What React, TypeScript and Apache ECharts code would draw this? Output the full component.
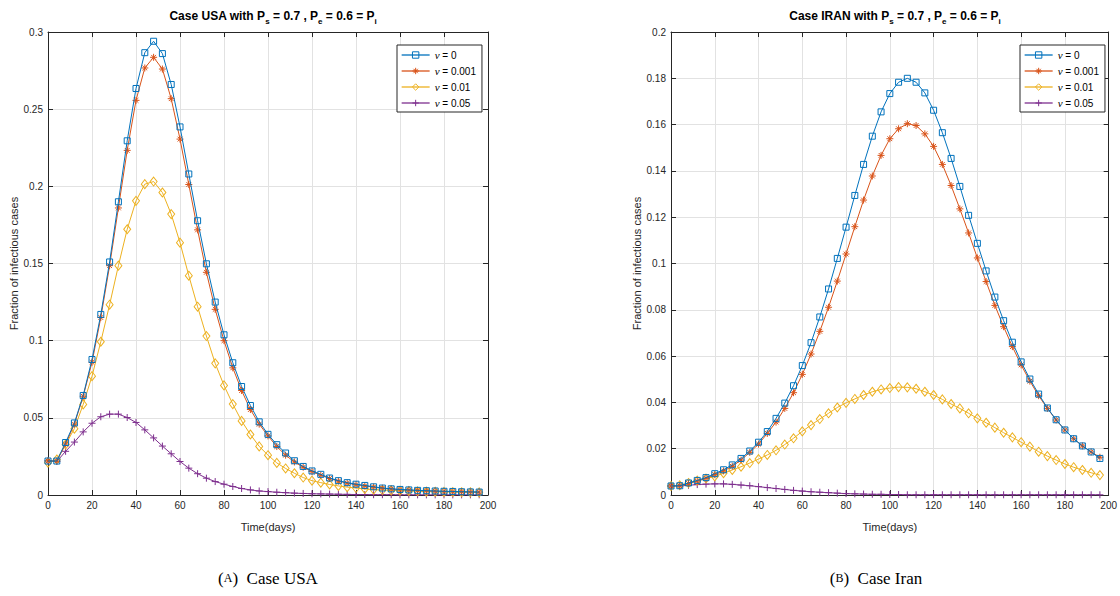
import React, { useEffect, useRef } from 'react';
import * as echarts from 'echarts';

const days = [0, 4, 8, 12, 16, 20, 24, 28, 32, 36, 40, 44, 48, 52, 56, 60, 64, 68, 72, 76, 80, 84, 88, 92, 96, 100, 104, 108, 112, 116, 120, 124, 128, 132, 136, 140, 144, 148, 152, 156, 160, 164, 168, 172, 176, 180, 184, 188, 192, 196];

const usaNu0 = [0.022, 0.022, 0.034, 0.0467, 0.0645, 0.0878, 0.117, 0.151, 0.19, 0.2295,
  0.2634, 0.2866, 0.294, 0.286, 0.266, 0.2385, 0.208, 0.1777, 0.1498, 0.125,
  0.1038, 0.0857, 0.0703, 0.058, 0.0474, 0.0393, 0.0326, 0.0272, 0.0222, 0.0185,
  0.0156, 0.0134, 0.011, 0.0093, 0.008, 0.007, 0.0062, 0.0053, 0.0045, 0.004,
  0.0036, 0.0033, 0.003, 0.0028, 0.0026, 0.0024, 0.0023, 0.0021, 0.002, 0.0019];
const usaNu0001 = [0.022, 0.022, 0.033, 0.0459, 0.064, 0.086, 0.115, 0.1486, 0.186, 0.2233,
  0.2557, 0.2767, 0.2836, 0.276, 0.2568, 0.2306, 0.2012, 0.1718, 0.1443, 0.1203,
  0.1, 0.0824, 0.0677, 0.0554, 0.0459, 0.0383, 0.0314, 0.0258, 0.0214, 0.018,
  0.0152, 0.0128, 0.0107, 0.009, 0.0077, 0.0067, 0.0059, 0.0051, 0.0044, 0.0039,
  0.0035, 0.0032, 0.0029, 0.0027, 0.0025, 0.0023, 0.0022, 0.0021, 0.002, 0.0019];
const usaNu001 = [0.021, 0.023, 0.0327, 0.043, 0.0587, 0.077, 0.0993, 0.1233, 0.1486, 0.1722,
  0.1906, 0.2014, 0.2031, 0.196, 0.182, 0.1635, 0.1421, 0.122, 0.103, 0.0853,
  0.071, 0.0589, 0.048, 0.0392, 0.0315, 0.0258, 0.0208, 0.0172, 0.0141, 0.0113,
  0.0093, 0.008, 0.0068, 0.0059, 0.0051, 0.0045, 0.0039, 0.0035, 0.0032, 0.003,
  0.0028, 0.0026, 0.0024, 0.0022, 0.0021, 0.002, 0.0019, 0.0018, 0.0018, 0.0017];
const usaNu005 = [0.0222, 0.0217, 0.0283, 0.0343, 0.0409, 0.0465, 0.0507, 0.0524, 0.0524, 0.0502,
  0.047, 0.0422, 0.037, 0.0317, 0.0267, 0.0217, 0.0174, 0.0138, 0.0109, 0.0087,
  0.007, 0.0055, 0.0042, 0.0033, 0.0026, 0.0022, 0.0018, 0.0015, 0.0012, 0.001,
  0.0008, 0.0007, 0.0006, 0.0005, 0.0004, 0.0003, 0.0003, 0.0002, 0.0002, 0.0002,
  0.0001, 0.0001, 0.0001, 0.0001, 0.0001, 0.0001, 0.0001, 0.0001, 0.0001, 0.0001];

const iranNu0 = [0.0039, 0.004, 0.0052, 0.0063, 0.0075, 0.0092, 0.0109, 0.013, 0.0158, 0.019,
  0.0228, 0.0274, 0.0331, 0.0397, 0.0472, 0.0559, 0.0658, 0.0769, 0.089, 0.1022,
  0.1157, 0.1294, 0.1428, 0.155, 0.1655, 0.1734, 0.1783, 0.18, 0.1783, 0.1737,
  0.1662, 0.1565, 0.1454, 0.1333, 0.1208, 0.1087, 0.0968, 0.0855, 0.0753, 0.066,
  0.0575, 0.0501, 0.0436, 0.0376, 0.0325, 0.0281, 0.0243, 0.0212, 0.0186, 0.0158];
const iranNu0001 = [0.0039, 0.004, 0.005, 0.006, 0.0072, 0.0088, 0.0104, 0.0124, 0.0151, 0.0184,
  0.022, 0.0266, 0.0315, 0.0374, 0.0442, 0.0521, 0.0609, 0.0707, 0.0811, 0.0924,
  0.1041, 0.1159, 0.1274, 0.1378, 0.1467, 0.1539, 0.1582, 0.1604, 0.1596, 0.156,
  0.1506, 0.1428, 0.1337, 0.1236, 0.1132, 0.1024, 0.0922, 0.0819, 0.0727, 0.0641,
  0.0562, 0.0492, 0.0429, 0.0374, 0.0324, 0.0281, 0.0243, 0.0212, 0.0186, 0.0163];
const iranNu001 = [0.0039, 0.0042, 0.0052, 0.0062, 0.0071, 0.008, 0.0094, 0.0108, 0.0122, 0.0138,
  0.0155, 0.0173, 0.0193, 0.0218, 0.0245, 0.0275, 0.0302, 0.0328, 0.0353, 0.0378,
  0.0398, 0.0415, 0.0432, 0.0446, 0.0456, 0.0462, 0.0466, 0.0465, 0.0459, 0.0446,
  0.0432, 0.0413, 0.0393, 0.0374, 0.0353, 0.0331, 0.0312, 0.0291, 0.0269, 0.0249,
  0.0228, 0.0209, 0.0187, 0.0168, 0.0151, 0.0134, 0.012, 0.0108, 0.0096, 0.0086];
const iranNu005 = [0.0039, 0.0039, 0.0042, 0.0045, 0.0047, 0.0048, 0.0048, 0.0046, 0.0043, 0.004,
  0.0036, 0.0032, 0.0028, 0.0024, 0.002, 0.0017, 0.0014, 0.0012, 0.001, 0.0008,
  0.0006, 0.0005, 0.0004, 0.0003, 0.0003, 0.0002, 0.0002, 0.0001, 0.0001, 0.0001,
  0.0001, 0.0001, 0.0001, 0.0001, 0.0001, 0.0001, 0.0001, 0.0001, 0.0001, 0.0001,
  0.0001, 0.0001, 0.0001, 0.0001, 0.0001, 0.0001, 0.0001, 0.0001, 0.0001, 0.0001];

const seriesNames = ['ν = 0', 'ν = 0.001', 'ν = 0.01', 'ν = 0.05'];
const colors = ['#0072BD', '#D95319', '#EDB120', '#7E2F8E'];
const xTicks = { min: 0, max: 200, interval: 20 };

const SANS = 'Liberation Sans';
const AX = '#262626';
const PLUS = 'path://M0,5L10,5M5,0L5,10';
const STAR = 'path://M0,5L10,5M5,0L5,10M1.6,1.6L8.4,8.4M1.6,8.4L8.4,1.6';
const symbols: any[] = ['rect', STAR, 'diamond', PLUS];
const symbolSizes: any[] = [6, 7, [7, 9], 7];
const CLEAR = 'rgba(255,255,255,0)';

function makeSeries(values: number[][], xIdx: number, yIdx: number) {
  return values.map((vals, i) => ({
    type: 'line',
    name: seriesNames[i],
    xAxisIndex: xIdx,
    yAxisIndex: yIdx,
    data: days.map((d, j) => [d, vals[j]]),
    symbol: symbols[i],
    symbolSize: symbolSizes[i],
    showSymbol: true,
    showAllSymbol: true,
    lineStyle: { color: colors[i], width: 1 },
    itemStyle: { color: CLEAR, borderColor: colors[i], borderWidth: 1 },
    emphasis: { disabled: true },
    z: 2 + (3 - i),
  }));
}

function axesFor(grid: number, yMax: number, yInt: number) {
  const common = {
    gridIndex: grid,
    axisLine: { show: true, onZero: false, lineStyle: { color: AX, width: 1 } },
    axisTick: { show: true, inside: true, length: 5, lineStyle: { color: AX, width: 1 } },
  };
  const lbl = { color: AX, fontSize: 10, fontFamily: SANS };
  const split = { show: true, lineStyle: { color: '#e2e2e2', width: 1 } };
  const nameStyle = { color: AX, fontSize: 11, fontFamily: SANS };
  const x = [
    { type: 'value', ...common, position: 'bottom', ...xTicks, axisLabel: { ...lbl, margin: 5 }, splitLine: split, name: 'Time(days)', nameLocation: 'middle', nameGap: 26, nameTextStyle: nameStyle },
    { type: 'value', ...common, position: 'top', ...xTicks, axisLabel: { show: false }, splitLine: { show: false } },
  ];
  const y = [
    { type: 'value', ...common, position: 'left', min: 0, max: yMax, interval: yInt, axisLabel: { ...lbl, margin: 5 }, splitLine: split, name: 'Fraction of infectious cases', nameLocation: 'middle', nameGap: 27, nameTextStyle: nameStyle },
    { type: 'value', ...common, position: 'right', min: 0, max: yMax, interval: yInt, axisLabel: { show: false }, splitLine: { show: false } },
  ];
  return { x, y };
}

const titleRich = {
  m: { fontSize: 12, fontWeight: 'bold', fontFamily: SANS, color: '#000', lineHeight: 14, verticalAlign: 'top' },
  s: { fontSize: 8, fontWeight: 'bold', fontFamily: SANS, color: '#000', lineHeight: 10, verticalAlign: 'top', padding: [7, 0, 0, 0] },
};

function legendFor(left: number) {
  return {
    show: true,
    orient: 'vertical',
    left,
    top: 45,
    data: seriesNames.map((n, i) => ({
      name: n,
      itemStyle: { color: CLEAR, borderColor: colors[i], borderWidth: 1 },
      lineStyle: { color: colors[i], width: 1.3 },
    })),
    backgroundColor: '#fff',
    borderColor: AX,
    borderWidth: 1,
    borderRadius: 0,
    padding: [4, 6, 3, 4],
    itemGap: 4,
    itemWidth: 28,
    itemHeight: 8,
    selectedMode: false,
    formatter: (n: string) => n.replace('ν', '{nu|ν}'),
    textStyle: {
      color: '#000', fontSize: 10, fontFamily: SANS, lineHeight: 12,
      rich: { nu: { fontStyle: 'italic', fontFamily: 'Liberation Serif', fontSize: 11, color: '#000', lineHeight: 12 } },
    },
  };
}

const capRich = {
  p: { fontSize: 17, fontFamily: 'Liberation Serif', color: '#000' },
  c: { fontSize: 12, fontFamily: 'Liberation Serif', color: '#000' },
};

export default function App() {
  const ref = useRef<HTMLDivElement>(null);
  useEffect(() => {
    document.body.style.margin = '0';
    if (!ref.current) return;
    const chart = echarts.init(ref.current, undefined, { renderer: 'svg' });
    const a = axesFor(0, 0.3, 0.05);
    const b = axesFor(1, 0.2, 0.02);
    chart.setOption({
      animation: false,
      backgroundColor: '#fff',
      grid: [
        { left: 48, right: 632, top: 32, bottom: 101 },
        { left: 671, right: 10, top: 32, bottom: 101 },
      ],
      title: [
        { left: 268, top: 5, textAlign: 'center', text: '{m|Case USA with P}{s|s}{m| = 0.7 , P}{s|e}{m| = 0.6 = P}{s|i}', textStyle: { rich: titleRich } },
        { left: 890, top: 5, textAlign: 'center', text: '{m|Case IRAN with P}{s|s}{m| = 0.7 , P}{s|e}{m| = 0.6 = P}{s|i}', textStyle: { rich: titleRich } },
      ],
      legend: [legendFor(397), legendFor(1020)],
      xAxis: [...a.x, ...b.x],
      yAxis: [...a.y, ...b.y],
      series: [
        ...makeSeries([usaNu0, usaNu0001, usaNu001, usaNu005], 0, 0),
        ...makeSeries([iranNu0, iranNu0001, iranNu001, iranNu005], 2, 2),
      ],
      graphic: [
        { type: 'text', style: { x: 268, y: 578, text: '{p|(}{c|A}{p|)  Case USA}', rich: capRich, align: 'center', verticalAlign: 'middle' } },
        { type: 'text', style: { x: 876, y: 578, text: '{p|(}{c|B}{p|)  Case Iran}', rich: capRich, align: 'center', verticalAlign: 'middle' } },
      ],
    });
    return () => chart.dispose();
  }, []);
  return <div ref={ref} style={{ width: 1120, height: 596 }} />;
}
